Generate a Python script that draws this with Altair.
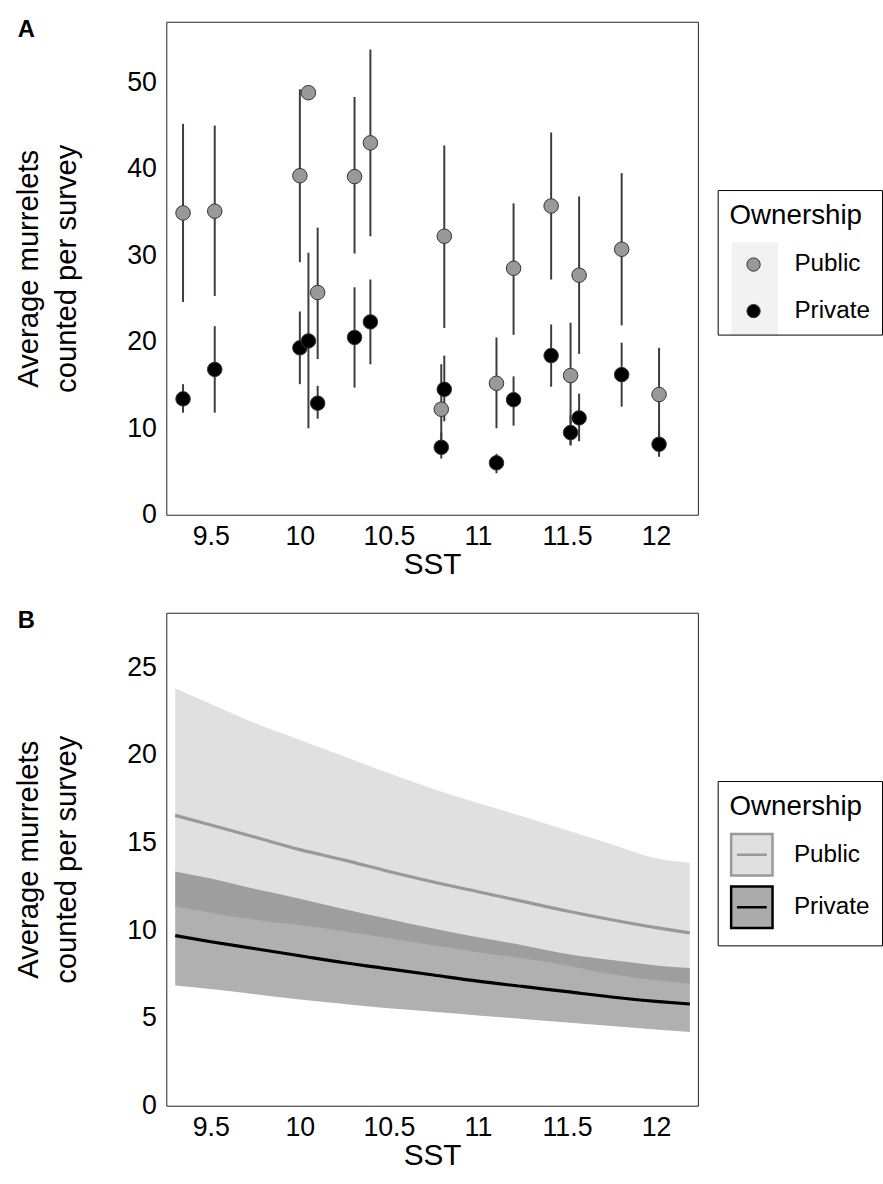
import altair as alt
import pandas as pd

FONT = "Liberation Sans"

# ---------------- Panel A: site means with 95% intervals ----------------
sst_sites = [9.344, 9.522, 10.0, 10.048, 10.1, 10.307, 10.396, 10.794, 10.811,
             11.104, 11.2, 11.411, 11.52, 11.568, 11.807, 12.017]
pub_mean = [34.9, 35.1, 39.2, 48.8, 25.7, 39.1, 43.0, 12.2, 32.2,
            15.2, 28.5, 35.7, 16.1, 27.7, 30.7, 13.9]
pub_lo = [24.6, 25.3, 29.2, 48.2, 18.0, 30.2, 32.2, 7.5, 21.6,
          10.0, 20.8, 27.2, 8.1, 18.6, 21.9, 7.0]
pub_hi = [45.2, 45.0, 49.2, 49.4, 33.2, 48.3, 53.8, 17.4, 42.7,
          20.5, 36.0, 44.2, 22.2, 36.8, 39.5, 19.3]
priv_mean = [13.4, 16.8, 19.3, 20.1, 12.9, 20.5, 22.3, 7.8, 14.5,
             6.0, 13.3, 18.4, 9.5, 11.2, 16.2, 8.15]
priv_lo = [11.8, 11.8, 15.1, 10.0, 11.1, 14.7, 17.4, 6.5, 10.8,
           4.8, 10.3, 14.8, 8.0, 8.5, 12.5, 6.7]
priv_hi = [15.1, 21.8, 23.5, 30.3, 14.9, 26.3, 27.2, 9.5, 18.4,
           7.05, 16.0, 22.0, 11.5, 14.0, 19.9, 9.7]

# ---------------- Panel B: model predictions ----------------
sst_grid = [9.30, 9.50, 9.75, 10.0, 10.25, 10.5, 10.75, 11.0, 11.25, 11.5, 11.75, 12.0, 12.19]
pub_fit = [16.55, 16.0, 15.3, 14.6, 14.0, 13.35, 12.75, 12.2, 11.65, 11.1, 10.6, 10.15, 9.85]
pub_fit_lo = [11.35, 11.0, 10.6, 10.3, 9.95, 9.55, 9.15, 8.75, 8.4, 8.0, 7.5, 7.15, 6.95]
pub_fit_hi = [23.8, 22.9, 21.8, 20.85, 19.9, 18.95, 18.05, 17.25, 16.5, 15.7, 14.9, 14.1, 13.85]
priv_fit = [9.7, 9.35, 8.95, 8.55, 8.15, 7.8, 7.45, 7.1, 6.8, 6.5, 6.2, 5.95, 5.8]
priv_fit_lo = [6.85, 6.65, 6.35, 6.05, 5.8, 5.55, 5.35, 5.15, 4.95, 4.75, 4.55, 4.35, 4.2]
priv_fit_hi = [13.35, 12.95, 12.35, 11.8, 11.2, 10.65, 10.1, 9.6, 9.15, 8.65, 8.3, 8.0, 7.85]

owners = ["Public", "Private"]
x_ticks = [9.5, 10, 10.5, 11, 11.5, 12]
x_domain = [9.25, 12.235]

dfA = pd.concat([
    pd.DataFrame({"SST": sst_sites, "Ownership": "Public", "mean": pub_mean, "lo": pub_lo, "hi": pub_hi}),
    pd.DataFrame({"SST": sst_sites, "Ownership": "Private", "mean": priv_mean, "lo": priv_lo, "hi": priv_hi}),
], ignore_index=True)

dfB = pd.concat([
    pd.DataFrame({"SST": sst_grid, "Ownership": "Public", "fit": pub_fit, "lo": pub_fit_lo, "hi": pub_fit_hi}),
    pd.DataFrame({"SST": sst_grid, "Ownership": "Private", "fit": priv_fit, "lo": priv_fit_lo, "hi": priv_fit_hi}),
], ignore_index=True)

y_title = ["Average murrelets", "counted per survey"]


def x_enc():
    return alt.X("SST:Q", scale=alt.Scale(domain=x_domain, nice=False, zero=False),
                 axis=alt.Axis(values=x_ticks, format="~g", title="SST",
                               labelPadding=9, titlePadding=0, titleFontSize=30))


def y_axis(vals):
    return alt.Axis(values=vals, title=y_title, titlePadding=46, labelPadding=10,
                    titleLineHeight=38)


def legend_common(**kw):
    base = dict(title="Ownership", orient="none", legendX=557, legendY=170,
                strokeColor="black", padding=12, titleFontSize=28,
                titleFontWeight="normal", titleFont=FONT, labelFont=FONT,
                labelFontSize=24.5, labelColor="black", titleColor="black",
                cornerRadius=0)
    base.update(kw)
    return alt.Legend(**base)


W, H = 537, 498

# ---- Panel A ----
yA_scale = alt.Scale(domain=[0, 57], nice=False, zero=False)
yA_vals = [0, 10, 20, 30, 40, 50]

bars = alt.Chart(dfA).mark_rule(color="#3c3c3c", strokeWidth=2).encode(
    x=x_enc(),
    y=alt.Y("lo:Q", scale=yA_scale, axis=y_axis(yA_vals)),
    y2="hi:Q",
)

key_bg = alt.Chart(pd.DataFrame({"k": [0]})).mark_rect(color="#F2F2F2").encode(
    x=alt.value(571), x2=alt.value(618), y=alt.value(223), y2=alt.value(317)
)

pts = alt.Chart(dfA).mark_circle(size=215, stroke="#333333", strokeWidth=1, opacity=1).encode(
    x=x_enc(),
    y=alt.Y("mean:Q", scale=yA_scale, axis=y_axis(yA_vals)),
    fill=alt.Fill("Ownership:N", scale=alt.Scale(domain=owners, range=["#999999", "#000000"]),
                  legend=legend_common(symbolType="circle", symbolSize=180,
                                       symbolStrokeColor="#333333",
                                       symbolStrokeWidth=1, symbolOffset=12, labelOffset=29,
                                       rowPadding=22, titlePadding=23)),
)

labA = alt.Chart(pd.DataFrame({"lab": ["A"]})).mark_text(
    fontSize=24, fontWeight="bold", font=FONT, align="left", baseline="top", color="black"
).encode(x=alt.value(-150), y=alt.value(-4), text="lab:N")

panelA = alt.layer(key_bg, bars, pts, labA).properties(width=W, height=H)

# ---- Panel B ----
yB_scale = alt.Scale(domain=[0, 28.1], nice=False, zero=False)
yB_vals = [0, 5, 10, 15, 20, 25]

key_path = "M-1,-1H1V1H-1Z M-0.72,0H0.72"
legB = legend_common(symbolType=key_path, symbolSize=1750, symbolFillColor="#ABABAB",
                     symbolStrokeWidth=2.5, labelOffset=20, rowPadding=0, titlePadding=12)
line_colors = ["#999999", "#000000"]

# legend-only layer (no rows pass the filter): filled box + line keys
keys = alt.Chart(dfB).transform_filter("datum.fit < 0").mark_point(
    shape=key_path, filled=True, size=1750, strokeWidth=2.5, opacity=1).encode(
    x=x_enc(),
    y=alt.Y("fit:Q", scale=yB_scale, axis=y_axis(yB_vals)),
    fill=alt.Fill("Ownership:N", scale=alt.Scale(domain=owners, range=["#E0E0E0", "#ABABAB"]),
                  legend=legB),
    stroke=alt.Stroke("Ownership:N", scale=alt.Scale(domain=owners, range=line_colors),
                      legend=legB),
)

rib_pub = alt.Chart(dfB).transform_filter("datum.Ownership === 'Public'").mark_area(
    color="#E0E0E0", opacity=1, interpolate="monotone").encode(
    x=x_enc(),
    y=alt.Y("lo:Q", scale=yB_scale, axis=y_axis(yB_vals)),
    y2="hi:Q",
)
rib_priv = alt.Chart(dfB).transform_filter("datum.Ownership === 'Private'").mark_area(
    color="#434343", opacity=0.42, interpolate="monotone").encode(
    x=x_enc(),
    y=alt.Y("lo:Q", scale=yB_scale, axis=y_axis(yB_vals)),
    y2="hi:Q",
)
lines = alt.Chart(dfB).mark_line(strokeWidth=3.2, interpolate="monotone").encode(
    x=x_enc(),
    y=alt.Y("fit:Q", scale=yB_scale, axis=y_axis(yB_vals)),
    color=alt.Color("Ownership:N", scale=alt.Scale(domain=owners, range=line_colors),
                    legend=None),
)

labB = alt.Chart(pd.DataFrame({"lab": ["B"]})).mark_text(
    fontSize=24, fontWeight="bold", font=FONT, align="left", baseline="top", color="black"
).encode(x=alt.value(-150), y=alt.value(-4), text="lab:N")

panelB = alt.layer(keys, rib_pub, rib_priv, lines, labB).properties(width=W, height=H)

chart = alt.vconcat(panelA, panelB, spacing=28).resolve_scale(
    fill="independent", stroke="independent", color="independent"
).resolve_legend(
    fill="independent", stroke="independent", color="independent"
).properties(
    padding={"left": 13, "top": 11, "right": 0, "bottom": 0}
).configure(font=FONT).configure_view(
    stroke="#222222", strokeWidth=1
).configure_axis(
    domain=False, ticks=False, grid=False, labelFontSize=27, titleFontSize=29.5,
    labelColor="black", titleColor="black", titleFontWeight="normal",
    labelFont=FONT, titleFont=FONT
)

chart.save("out.html", embed_options={"renderer": "svg", "actions": False})
